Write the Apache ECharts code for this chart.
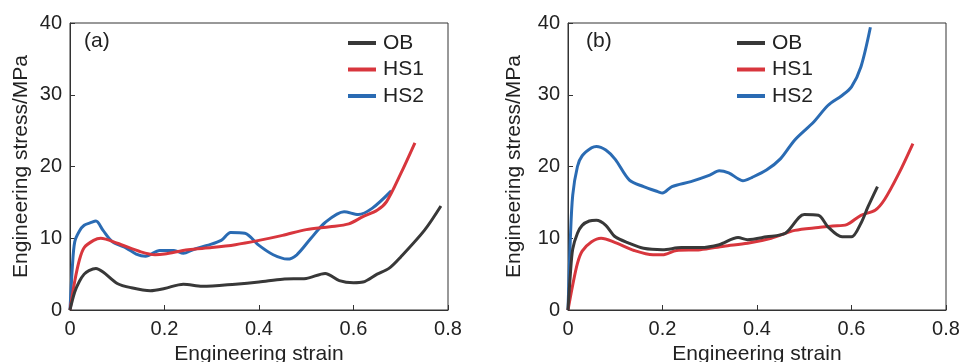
<!DOCTYPE html>
<html><head><meta charset="utf-8">
<script src="https://cdn.jsdelivr.net/npm/echarts@6/dist/echarts.min.js"></script>
<style>html,body{margin:0;padding:0;background:#fff}#c{width:960px;height:362px}</style>
</head><body><div id="c"></div>
<script>
const seriesNames = ['OB', 'HS1', 'HS2'];
const colors = ['#383838', '#d8363d', '#2a6bb3'];
const panelLabels = ['(a)', '(b)'];
const xTicks = [0, 0.2, 0.4, 0.6, 0.8];
const yTicks = [0, 10, 20, 30, 40];

// Panel (a): [strain, stress MPa]
const obA = [[0,0],[0.01,2.5],[0.02,4],[0.03,5],[0.04,5.5],[0.055,5.8],[0.07,5.3],[0.1,3.7],[0.13,3.1],[0.17,2.7],[0.2,3.0],[0.24,3.6],[0.28,3.3],[0.35,3.6],[0.4,3.9],[0.45,4.3],[0.5,4.4],[0.54,5.1],[0.57,4.1],[0.6,3.8],[0.62,3.9],[0.65,5.0],[0.675,5.8],[0.7,7.4],[0.75,11.1],[0.785,14.5]];
const hs1A = [[0,0],[0.01,4],[0.02,7],[0.03,8.7],[0.05,9.7],[0.065,10.0],[0.1,9.3],[0.15,8.1],[0.18,7.7],[0.2,7.8],[0.25,8.4],[0.3,8.7],[0.35,9.1],[0.4,9.7],[0.45,10.4],[0.5,11.2],[0.55,11.6],[0.59,12.0],[0.62,13.0],[0.65,13.9],[0.67,15.1],[0.7,19.0],[0.73,23.3]];
const hs2A = [[0,0],[0.005,6],[0.01,9.5],[0.02,11],[0.03,11.8],[0.045,12.2],[0.055,12.4],[0.07,11.1],[0.09,9.5],[0.12,8.6],[0.14,7.8],[0.16,7.5],[0.19,8.3],[0.22,8.3],[0.24,7.9],[0.26,8.4],[0.29,9.0],[0.32,9.7],[0.34,10.8],[0.37,10.7],[0.4,9.0],[0.43,7.7],[0.46,7.1],[0.48,7.7],[0.51,10.0],[0.54,12.2],[0.58,13.7],[0.61,13.3],[0.64,14.2],[0.68,16.6]];

// Panel (b)
const obB = [[0,0],[0.005,5],[0.01,8.5],[0.02,10.7],[0.03,11.8],[0.045,12.4],[0.06,12.5],[0.08,11.8],[0.1,10.2],[0.13,9.3],[0.16,8.6],[0.2,8.4],[0.24,8.7],[0.28,8.7],[0.32,9.1],[0.36,10.1],[0.38,9.8],[0.42,10.2],[0.46,10.7],[0.5,13.3],[0.53,13.2],[0.55,11.6],[0.58,10.2],[0.6,10.2],[0.62,12.1],[0.635,14.4],[0.655,17.2]];
const hs1B = [[0,0],[0.01,3.5],[0.02,6.5],[0.03,8.2],[0.05,9.5],[0.07,10.0],[0.1,9.4],[0.14,8.3],[0.18,7.7],[0.2,7.7],[0.23,8.3],[0.28,8.4],[0.33,8.9],[0.38,9.3],[0.43,10.0],[0.48,11.1],[0.53,11.5],[0.56,11.7],[0.59,11.9],[0.62,13.2],[0.65,13.9],[0.67,15.4],[0.7,19.0],[0.73,23.2]];
const hs2B = [[0,0],[0.005,10],[0.01,16],[0.02,20],[0.03,21.5],[0.05,22.6],[0.06,22.8],[0.08,22.3],[0.1,21.0],[0.13,18.1],[0.16,17.2],[0.19,16.5],[0.2,16.3],[0.22,17.2],[0.26,17.9],[0.3,18.8],[0.32,19.4],[0.34,19.1],[0.36,18.3],[0.37,18.0],[0.39,18.5],[0.42,19.5],[0.45,21.1],[0.48,23.7],[0.52,26.2],[0.55,28.5],[0.58,29.9],[0.6,31.1],[0.62,33.9],[0.64,39.4]];

const panels = [[obA, hs1A, hs2A], [obB, hs1B, hs2B]];
const FONT = 'Liberation Sans, Arial, sans-serif';
const grids = [
  {left: 70, right: 512, top: 23, bottom: 52},
  {left: 568, right: 14, top: 23, bottom: 52}
];
const yNameGap = [38, 43];
const legendLeft = [348, 737];
const labelLeft = [84, 586];

const chart = echarts.init(document.getElementById('c'), null, {renderer: 'canvas'});
const option = {
  backgroundColor: '#fff',
  animation: false,
  grid: grids.map(g => Object.assign({show: true, borderColor: '#333', borderWidth: 1, backgroundColor: 'transparent', containLabel: false, outerBoundsMode: 'none'}, g)),
  xAxis: grids.map((g, i) => ({
    type: 'value', gridIndex: i, min: xTicks[0], max: xTicks[xTicks.length-1], interval: 0.2,
    name: 'Engineering strain', nameLocation: 'middle', nameGap: 32,
    nameTextStyle: {fontFamily: FONT, fontSize: 21, color: '#222'},
    axisLine: {show: true, lineStyle: {color: '#333', width: 1}},
    axisTick: {show: true, inside: true, length: 5, lineStyle: {color: '#333'}},
    axisLabel: {fontFamily: FONT, fontSize: 20, color: '#222', margin: 9, formatter: v => String(+v.toFixed(1))},
    splitLine: {show: false}
  })),
  yAxis: grids.map((g, i) => ({
    type: 'value', gridIndex: i, min: yTicks[0], max: yTicks[yTicks.length-1], interval: 10,
    name: 'Engineering stress/MPa', nameLocation: 'middle', nameGap: yNameGap[i],
    nameTextStyle: {fontFamily: FONT, fontSize: 21, color: '#222'},
    axisLine: {show: true, lineStyle: {color: '#333', width: 1}},
    axisTick: {show: true, inside: true, length: 5, lineStyle: {color: '#333'}},
    axisLabel: {fontFamily: FONT, fontSize: 20, color: '#222', margin: 8},
    splitLine: {show: false}
  })),
  legend: legendLeft.map(l => ({
    orient: 'vertical', left: l, top: 31, padding: 0, icon: 'rect', itemWidth: 28, itemHeight: 4, itemGap: 2.5,
    data: seriesNames,
    textStyle: {fontFamily: FONT, fontSize: 21, color: '#222', lineHeight: 24, padding: [0, 0, 0, 2]}
  })),
  graphic: panelLabels.map((t, i) => ({
    type: 'text', left: labelLeft[i], top: 31,
    style: {text: t, font: '21px ' + FONT, fill: '#222'}
  })),
  series: []
};
panels.forEach((p, gi) => {
  p.forEach((d, si) => {
    option.series.push({
      type: 'line', name: seriesNames[si], xAxisIndex: gi, yAxisIndex: gi,
      data: d, smooth: 0.3, showSymbol: false, symbol: 'none',
      lineStyle: {color: colors[si], width: 3}, itemStyle: {color: colors[si]}, z: 3 - si
    });
  });
});
chart.setOption(option);
</script></body></html>
